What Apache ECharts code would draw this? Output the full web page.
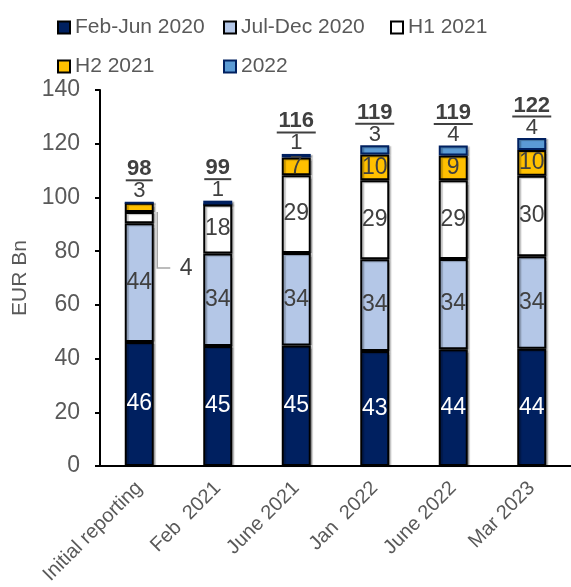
<!DOCTYPE html>
<html>
<head>
<meta charset="utf-8">
<script src="https://cdn.jsdelivr.net/npm/echarts@6/dist/echarts.min.js"></script>
<style>
html, body { margin: 0; padding: 0; background: #fff; }
#chart { width: 571px; height: 587px; }
</style>
</head>
<body>
<div id="chart"></div>
<script>
// 类目和系列名
var categories = ['Initial reporting', 'Feb  2021', 'June 2021', 'Jan  2022', 'June 2022', 'Mar 2023'];
var seriesNames = ['Feb-Jun 2020', 'Jul-Dec 2020', 'H1 2021', 'H2 2021', '2022'];

// 各期数值 (EUR Bn)
var febJun2020 = [46.2, 44.7, 44.9, 42.8, 43.5, 43.7];
var julDec2020 = [44.2, 34.4, 34.4, 34.2, 33.6, 34.4];
var h1_2021 = [4.2, 18.3, 29.0, 29.4, 29.3, 30.0];
var h2_2021 = [3.4, 0, 6.6, 9.6, 9.2, 9.6];
var y2022 = [0, 1.4, 1.3, 3.4, 3.7, 4.4];

// y轴刻度
var yMin = 0, yMax = 140, yStep = 20;

// 合计 (柱顶加粗数字)
var totals = categories.map(function (c, i) {
    return Math.round(febJun2020[i] + julDec2020[i] + h1_2021[i] + h2_2021[i] + y2022[i]);
});
// 柱顶上方的小数字: 2022 为 0 时显示 H2 2021
var topSmall = categories.map(function (c, i) {
    return Math.round(y2022[i] || h2_2021[i]);
});

var colors = ['#002060', '#B4C7E7', '#FFFFFF', '#FFC000', '#5B9BD5'];
var borders = ['#000000', '#000000', '#000000', '#000000', '#002060'];
var textGray = '#404040';
var barW = 29;

var chartDom = document.getElementById('chart');
var myChart = echarts.init(chartDom);
var option;

function insideLabel(color, minVal) {
    return {
        show: true,
        position: 'inside',
        fontSize: 23,
        color: color,
        formatter: function (p) {
            return p.value >= minVal ? String(Math.round(p.value)) : '';
        }
    };
}

function baseSeries(i, data) {
    return {
        name: seriesNames[i],
        type: 'bar',
        stack: 'total',
        barWidth: barW,
        data: data,
        itemStyle: {
            color: colors[i], borderColor: borders[i], borderWidth: 2,
            shadowColor: 'rgba(0,0,0,0.25)', shadowBlur: 1, shadowOffsetX: 2, shadowOffsetY: 1
        },
        emphasis: { disabled: true }
    };
}

var s0 = baseSeries(0, febJun2020);
s0.label = insideLabel('#FFFFFF', 5);

var s1 = baseSeries(1, julDec2020);
s1.label = insideLabel(textGray, 5);

// H1 2021: 首柱的小段标签挪到右下
var s2 = baseSeries(2, h1_2021);
s2.label = insideLabel(textGray, 1);
s2.labelLayout = function (p) {
    if (p.dataIndex !== 0) return {};
    var top = Math.min(p.rect.y, p.rect.y + p.rect.height);
    return {
        x: p.rect.x + p.rect.width + 26,
        y: top + 57,
        align: 'left',
        verticalAlign: 'middle'
    };
};

var s3 = baseSeries(3, h2_2021);
s3.label = insideLabel(textGray, 5);

var s4 = baseSeries(4, y2022);
s4.label = {
    show: true,
    position: 'top',
    distance: 1,
    formatter: function (p) {
        var t = String(totals[p.dataIndex]);
        return '{t|' + t + '}\n{u' + t.length + '|}\n{v|' + topSmall[p.dataIndex] + '}';
    },
    rich: {
        t: { fontSize: 22, fontWeight: 'bold', color: textGray, lineHeight: 19 },
        u2: { width: 27, height: 2, backgroundColor: textGray, lineHeight: 3 },
        u3: { width: 39, height: 2, backgroundColor: textGray, lineHeight: 3 },
        v: { fontSize: 22, color: textGray, lineHeight: 19 }
    }
};

var legendPos = [[52, 12], [218, 12], [385, 12], [52, 51], [218, 51]];

option = {
    animation: false,
    textStyle: { fontFamily: 'Liberation Sans, Arial' },
    legend: seriesNames.map(function (n, i) {
        return {
            data: [{ name: n, itemStyle: { color: colors[i], borderColor: borders[i], borderWidth: 2, shadowBlur: 0 } }],
            left: legendPos[i][0],
            top: legendPos[i][1],
            icon: 'rect',
            itemWidth: 12,
            itemHeight: 12,
            selectedMode: false,
            textStyle: { fontSize: 21, color: '#595959' }
        };
    }),
    grid: { left: 100, right: -2, top: 90, bottom: 119 },
    xAxis: {
        type: 'category',
        data: categories,
        axisLine: { lineStyle: { color: '#000', width: 2 } },
        axisTick: { show: false },
        axisLabel: { rotate: 45, interval: 0, fontSize: 20, color: '#595959', margin: 19 }
    },
    yAxis: {
        type: 'value',
        min: yMin,
        max: yMax,
        interval: yStep,
        name: 'EUR Bn',
        nameLocation: 'middle',
        nameGap: 66,
        nameTextStyle: { fontSize: 21, color: '#595959' },
        axisLine: { show: true, lineStyle: { color: '#000', width: 2 } },
        axisTick: { show: true, length: 5, lineStyle: { color: '#000', width: 2 } },
        splitLine: { show: false },
        axisLabel: { fontSize: 23, color: '#595959', margin: 20 }
    },
    series: [s0, s1, s2, s3, s4]
};

option && myChart.setOption(option);

// 引线: 从首柱 H1 2021 段顶部沿柱右边向下, 再横向到标签
var segTop = myChart.convertToPixel({ gridIndex: 0 }, [0, febJun2020[0] + julDec2020[0] + h1_2021[0]]);
var lx = segTop[0] + barW / 2 + 3.5;
var ly = segTop[1];
myChart.setOption({
    graphic: [{
        type: 'polyline',
        silent: true,
        z: 10,
        shape: { points: [[lx, ly], [lx, ly + 56], [lx + 13, ly + 56]] },
        style: { stroke: '#A6A6A6', lineWidth: 1.5, fill: null }
    }]
});
</script>
</body>
</html>
